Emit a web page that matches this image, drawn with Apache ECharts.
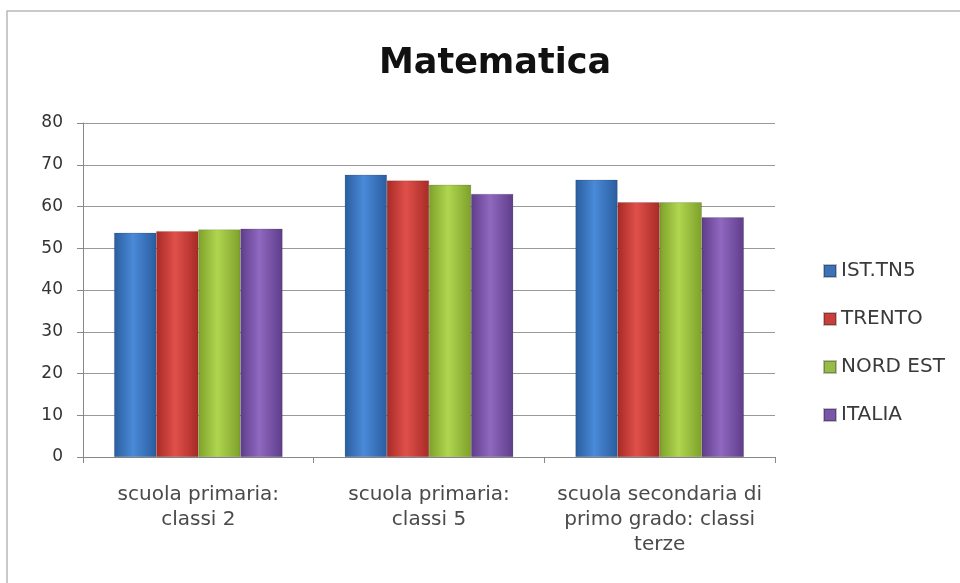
<!DOCTYPE html>
<html><head><meta charset="utf-8">
<script src="https://cdn.jsdelivr.net/npm/echarts@6/dist/echarts.min.js"></script>
<style>html,body{margin:0;padding:0;background:#fff}#c{width:960px;height:583px}</style>
</head><body><div id="c"></div>
<script>
const categories = ["scuola primaria:\nclassi 2", "scuola primaria:\nclassi 5", "scuola secondaria di\nprimo grado: classi\nterze"];
const seriesNames = ["IST.TN5", "TRENTO", "NORD EST", "ITALIA"];
const istTn5 = [53.7, 67.6, 66.4];
const trento = [54.1, 66.2, 61.0];
const nordEst = [54.5, 65.2, 61.0];
const italia = [54.7, 63.0, 57.4];
const yTicks = [0, 10, 20, 30, 40, 50, 60, 70, 80];

const values = [istTn5, trento, nordEst, italia];
const palette = [
  ["#2a5d9f", "#4a8ad8", "#2a5d9f"],
  ["#a82a26", "#e0504a", "#a82a26"],
  ["#7ea02a", "#b0d650", "#7ea02a"],
  ["#5e3d8a", "#9068c0", "#5e3d8a"]
];
const legendColors = ["#3e72b8", "#c8403c", "#98bc48", "#7a56a8"];
function grad(c){return {type:'linear',x:0,y:0,x2:1,y2:0,colorStops:[{offset:0,color:c[0]},{offset:0.45,color:c[1]},{offset:1,color:c[2]}]};}
const FONT = 'DejaVu Sans';

const chart = echarts.init(document.getElementById('c'), null, {renderer:'canvas'});
chart.setOption({
  backgroundColor:'#fff',
  animation:false,
  graphic:[{type:'rect',shape:{x:7,y:11,width:970,height:600},style:{fill:'none',stroke:'#b8b8b8',lineWidth:1.5},silent:true}],
  title:{text:'Matematica',left:490,textAlign:'center',top:41,textStyle:{fontFamily:FONT,fontWeight:'bold',fontSize:35,color:'#111'}},
  legend:{orient:'vertical',left:818,top:256,itemWidth:12,itemHeight:12,itemGap:28,
    textStyle:{fontFamily:FONT,fontSize:20,color:'#3a3a3a'},
    data:seriesNames.map((n,i)=>({name:n,icon:'rect',itemStyle:{color:legendColors[i]}}))},
  grid:{left:83,right:185,top:123,bottom:126,containLabel:false},
  xAxis:{type:'category',data:categories,
    axisLine:{lineStyle:{color:'#888'}},
    axisTick:{show:true,length:6,lineStyle:{color:'#888'}},
    axisLabel:{fontFamily:FONT,fontSize:20,color:'#4a4a4a',lineHeight:25,margin:25,interval:0}},
  yAxis:{type:'value',min:yTicks[0],max:yTicks[yTicks.length-1],interval:10,
    axisLine:{show:true,lineStyle:{color:'#888'}},
    axisTick:{show:true,length:6,lineStyle:{color:'#888'}},
    splitLine:{lineStyle:{color:'#999'}},
    axisLabel:{fontFamily:FONT,fontSize:17,color:'#333',margin:20}},
  series:seriesNames.map((n,i)=>({name:n,type:'bar',data:values[i],barGap:'0%',barCategoryGap:'27%',
    itemStyle:{color:grad(palette[i]),borderColor:'rgba(0,0,0,0.25)',borderWidth:0.5}}))
});
</script></body></html>
